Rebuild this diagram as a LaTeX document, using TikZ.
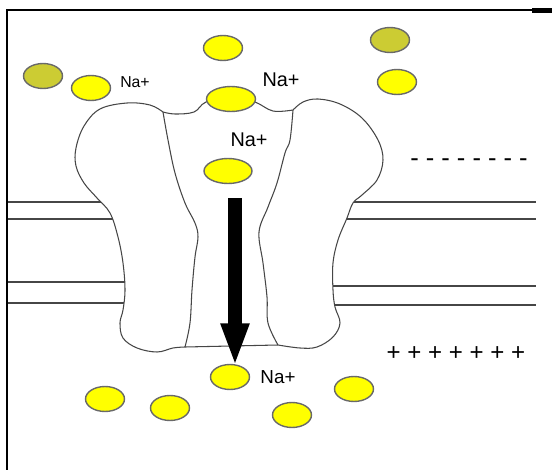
\documentclass[tikz,border=0pt]{standalone}
\usepackage{fontspec}
\setmainfont{Liberation Sans}
\usetikzlibrary{shapes.geometric, arrows.meta}

\definecolor{ionyellow}{RGB}{255,255,0}
\definecolor{ionolive}{RGB}{204,204,51}
\definecolor{rimgray}{RGB}{105,105,105}
\definecolor{wallgray}{RGB}{70,70,70}

\tikzset{
  ion/.style={ellipse, draw=rimgray, line width=0.8pt, fill=ionyellow,
    minimum width=0.78cm, minimum height=0.5cm, inner sep=0pt},
  oldion/.style={ion, fill=ionolive},
  natext/.style={inner sep=0pt, text=black},
  wall/.style={draw=wallgray, line width=0.6pt},
  sheet/.style={draw=wallgray, line width=0.6pt},
}

\begin{document}
\begin{tikzpicture}[x=0.02cm, y=-0.02cm]
\useasboundingbox (0,0) rectangle (552,470);

% frame
\draw[black, line width=1.1pt] (7,470) -- (7,10) -- (532,10);
\fill[black] (532,8) rectangle (552,13);

% lipid bilayer, the channel covers the middle
\foreach \y in {202,219,282,303} {
  \draw[sheet] (8,\y) -- (200,\y);
}
\foreach \y in {202,219,286,305} {
  \draw[sheet] (250,\y) -- (536,\y);
}

% channel protein
\draw[wall, fill=white] (163,112)
  -- plot[smooth, tension=0.6] coordinates {(163,112) (150,105) (127,103) (100,109) (84,126) (76,148) (76,166) (84,183) (97,198) (110,213) (118,237) (123,263) (125,290) (123,310) (120,323) (123,338) (137,348) (157,352) (173,348) (185,347)}
  -- (278,345)
  -- plot[smooth, tension=0.6] coordinates {(278,345) (300,348) (317,347) (333,337) (340,323) (335,307) (333,290) (333,263) (338,240) (347,218) (353,203) (362,195) (377,180) (383,160) (378,140) (362,118) (340,104) (318,99) (303,102) (293,110)}
  -- plot[smooth, tension=0.6] coordinates {(293,110) (273,111) (255,102) (231,96) (206,102) (194,112) (175,114) (163,112)}
  -- cycle;
\draw[wall] plot[smooth, tension=0.6] coordinates {(163,112) (168,140) (175,173) (185,203) (195,223) (198,237) (195,257) (192,290) (190,323) (185,347)};
\draw[wall] plot[smooth, tension=0.6] coordinates {(293,110) (290,140) (285,153) (277,183) (268,207) (259,232) (263,263) (267,297) (268,323) (278,345)};

% ions outside
\node[oldion] (ionA) at (43,76) {};
\node[ion] (ionB) at (91,88) {};
\node[ion] (ionC) at (223,48) {};
\node[ion, minimum width=0.98cm] (ionD) at (231,99) {};
\node[oldion] (ionE) at (390,40) {};
\node[ion] (ionF) at (397,82) {};

% ion in the pore
\node[ion, minimum width=0.96cm] (ionG) at (228,171) {};

% ions inside
\node[ion] (ionH) at (230,377) {};
\node[ion] (ionI) at (105,399) {};
\node[ion] (ionJ) at (170,408) {};
\node[ion] (ionK) at (292,415) {};
\node[ion] (ionL) at (354,389) {};

% labels
\node[natext, font=\fontsize{9}{9}\selectfont] (naA) at (135,82) {Na+};
\node[natext, font=\fontsize{11.3}{11.3}\selectfont] (naB) at (281,80) {Na+};
\node[natext, font=\fontsize{11.3}{11.3}\selectfont] (naC) at (249,140) {Na+};
\node[natext, font=\fontsize{10.7}{10.7}\selectfont] (naD) at (278,377) {Na+};

% membrane charges
\node[natext, font=\fontsize{14.5}{14.5}\selectfont] (minus) at (469,163) {- - - - - - - -};
\node[natext, font=\fontsize{13.7}{13.7}\selectfont] (plus) at (456,354) {+ + + + + + +};

% inward flow
\coordinate (flowtop) at (235,198);
\draw[line width=7.9pt, -{Triangle[width=14.7pt, length=24.4pt]}, shorten >=-0.05cm]
  (flowtop) -- (flowtop |- ionH.north);

\end{tikzpicture}
\end{document}
